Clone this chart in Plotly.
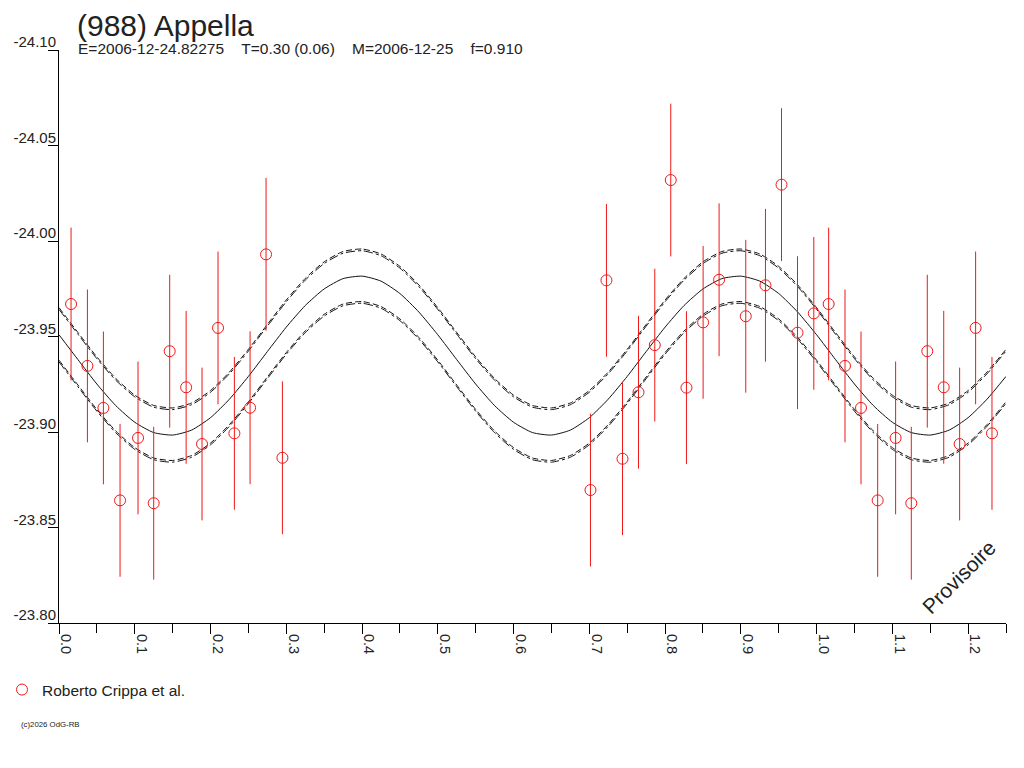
import plotly.graph_objects as go

# ---- data ----
phase = [0.0159, 0.0375, 0.0586, 0.0806, 0.1043, 0.1250, 0.1461, 0.1678, 0.1888, 0.2099,
         0.2315, 0.2522, 0.2733, 0.2949, 0.7015, 0.7226, 0.7438, 0.7649, 0.7864, 0.8075,
         0.8282, 0.8502, 0.8713, 0.9065, 0.9325, 0.9537, 0.9748, 0.9963]
mag = [-23.9670, -23.9346, -23.9126, -23.8642, -23.8969, -23.8627, -23.9423, -23.9234, -23.8937, -23.9545,
       -23.8993, -23.9127, -23.9930, -23.8865, -23.8696, -23.9794, -23.8860, -23.9208, -23.9455, -24.0319,
       -23.9232, -23.9574, -23.9797, -23.9606, -23.9768, -24.0295, -23.9520, -23.9621]
err = [0.040] * len(phase)

fit_phase = [0.000, 0.025, 0.050, 0.075, 0.100, 0.125, 0.150, 0.175, 0.200, 0.225,
             0.250, 0.275, 0.300, 0.325, 0.350, 0.375, 0.400, 0.425, 0.450, 0.475,
             0.500, 0.525, 0.550, 0.575, 0.600, 0.625, 0.650, 0.675, 0.700, 0.725,
             0.750, 0.775, 0.800, 0.825, 0.850, 0.875, 0.900, 0.925, 0.950, 0.975, 1.000]
fit_mag = [-23.9509, -23.9379, -23.9251, -23.9138, -23.9051, -23.8997, -23.8984, -23.9010, -23.9075, -23.9172,
           -23.9291, -23.9421, -23.9549, -23.9662, -23.9749, -23.9803, -23.9816, -23.9790, -23.9725, -23.9628,
           -23.9509, -23.9379, -23.9251, -23.9138, -23.9051, -23.8997, -23.8984, -23.9010, -23.9075, -23.9172,
           -23.9291, -23.9421, -23.9549, -23.9662, -23.9749, -23.9803, -23.9816, -23.9790, -23.9725, -23.9628,
           -23.9509]
env_outer = 0.0142
env_inner = 0.0133

y_ticks = [-24.10, -24.05, -24.00, -23.95, -23.90, -23.85, -23.80]
x_ticks = [0.0, 0.1, 0.2, 0.3, 0.4, 0.5, 0.6, 0.7, 0.8, 0.9, 1.0, 1.1, 1.2]

title_text = "(988) Appella"
subtitle_text = "E=2006-12-24.82275    T=0.30 (0.06)    M=2006-12-25    f=0.910"
legend_name = "Roberto Crippa et al."
credit_text = "(c)2026 OdG-RB"
watermark = "Provisoire"

X_MAX = 1.25

# ---- wrap phases beyond 1.0 (phase + 1) ----
px_all, mg_all, er_all = list(phase), list(mag), list(err)
for p, m, e in zip(phase, mag, err):
    if p + 1.0 <= X_MAX:
        px_all.append(p + 1.0); mg_all.append(m); er_all.append(e)

fx, fy = list(fit_phase), list(fit_mag)
for p, m in zip(fit_phase[1:], fit_mag[1:]):
    if p + 1.0 <= X_MAX + 1e-9:
        fx.append(p + 1.0); fy.append(m)

FONT = "Liberation Sans, Arial, sans-serif"
TXT = "#222222"
RED = "#f01818"

fig = go.Figure()

def add_line(y, dash, width=1):
    fig.add_trace(go.Scatter(x=fx, y=y, mode="lines", line=dict(color="#111111", width=width, dash=dash,
                             shape="spline", smoothing=0.6), showlegend=False, hoverinfo="skip"))

add_line([v - env_outer for v in fy], "6px,3px")
add_line([v - env_inner for v in fy], "dashdot")
add_line([v + env_inner for v in fy], "6px,3px")
add_line([v + env_outer for v in fy], "dashdot")
add_line(fy, "solid")

fig.add_trace(go.Scatter(
    x=px_all, y=mg_all, mode="markers", name=legend_name,
    marker=dict(symbol="circle-open", size=11, color=RED, line=dict(width=1, color=RED)),
    error_y=dict(type="data", array=er_all, symmetric=True, thickness=1, width=0, color=RED),
    showlegend=True,
))

# page offset (browser body margin) and plot-area edges in screenshot pixels
OFF = 8
W, H = 1024, 768
PL, PR, PT, PB = 59, 1006, 50, 623
L, R, T, B = PL - OFF, W - (PR - OFF), PT - OFF, H - (PB - OFF)
pw, ph = PR - PL, PB - PT

def pxx(px):
    return (px - PL) / pw

def pxy(py):
    return (PB - py) / ph

fig.update_layout(
    width=W, height=H,
    margin=dict(l=L, r=R, t=T, b=B, pad=0, autoexpand=False),
    paper_bgcolor="white", plot_bgcolor="white",
    font=dict(family=FONT, color=TXT, size=15),
    showlegend=True,
    legend=dict(x=pxx(2), y=pxy(673), xanchor="left", yanchor="top",
                font=dict(size=15.5, color=TXT), bgcolor="rgba(0,0,0,0)",
                borderwidth=0, itemwidth=30, tracegroupgap=0),
    xaxis=dict(range=[0, X_MAX], tickvals=x_ticks, ticktext=[f"{v:.1f}" for v in x_ticks], tickangle=90,
               ticks="outside", ticklen=10, tickcolor="#000", tickwidth=1, automargin=False,
               showline=True, linecolor="#000", linewidth=1, mirror=False,
               showgrid=False, zeroline=False, ticklabelshift=7, ticklabelstandoff=-3,
               tickfont=dict(size=14.5, color=TXT, family=FONT),
               minor=dict(dtick=0.05, tick0=0, ticks="outside", ticklen=9, tickcolor="#000", tickwidth=1,
                          showgrid=False)),
    yaxis=dict(range=[-23.80, -24.10], tickvals=y_ticks, ticktext=[f"{v:.2f}" for v in y_ticks],
               ticks="outside", ticklen=10, tickcolor="#000", tickwidth=1, automargin=False,
               showline=True, linecolor="#000", linewidth=1,
               showgrid=False, zeroline=False, ticklabelshift=8, ticklabelstandoff=-11,
               tickfont=dict(size=15, color=TXT, family=FONT)),
    annotations=[
        dict(text=title_text, xref="paper", yref="paper", x=pxx(76), y=pxy(OFF), xanchor="left", yanchor="top",
             showarrow=False, borderpad=0, font=dict(size=30, color=TXT, family=FONT)),
        dict(text=subtitle_text.replace(" ", "&nbsp;"), xref="paper", yref="paper", x=pxx(76), y=pxy(48),
             xanchor="left", yanchor="middle", showarrow=False, font=dict(size=15.5, color=TXT, family=FONT)),
        dict(text=credit_text, xref="paper", yref="paper", x=pxx(19), y=pxy(724), xanchor="left",
             yanchor="middle", showarrow=False, font=dict(size=7.8, color=TXT, family=FONT)),
        dict(text=watermark, xref="paper", yref="paper", x=pxx(958), y=pxy(577), xanchor="center",
             yanchor="middle", showarrow=False, textangle=-45, font=dict(size=21, color=TXT, family=FONT)),
    ],
)

fig.write_html("out.html")
